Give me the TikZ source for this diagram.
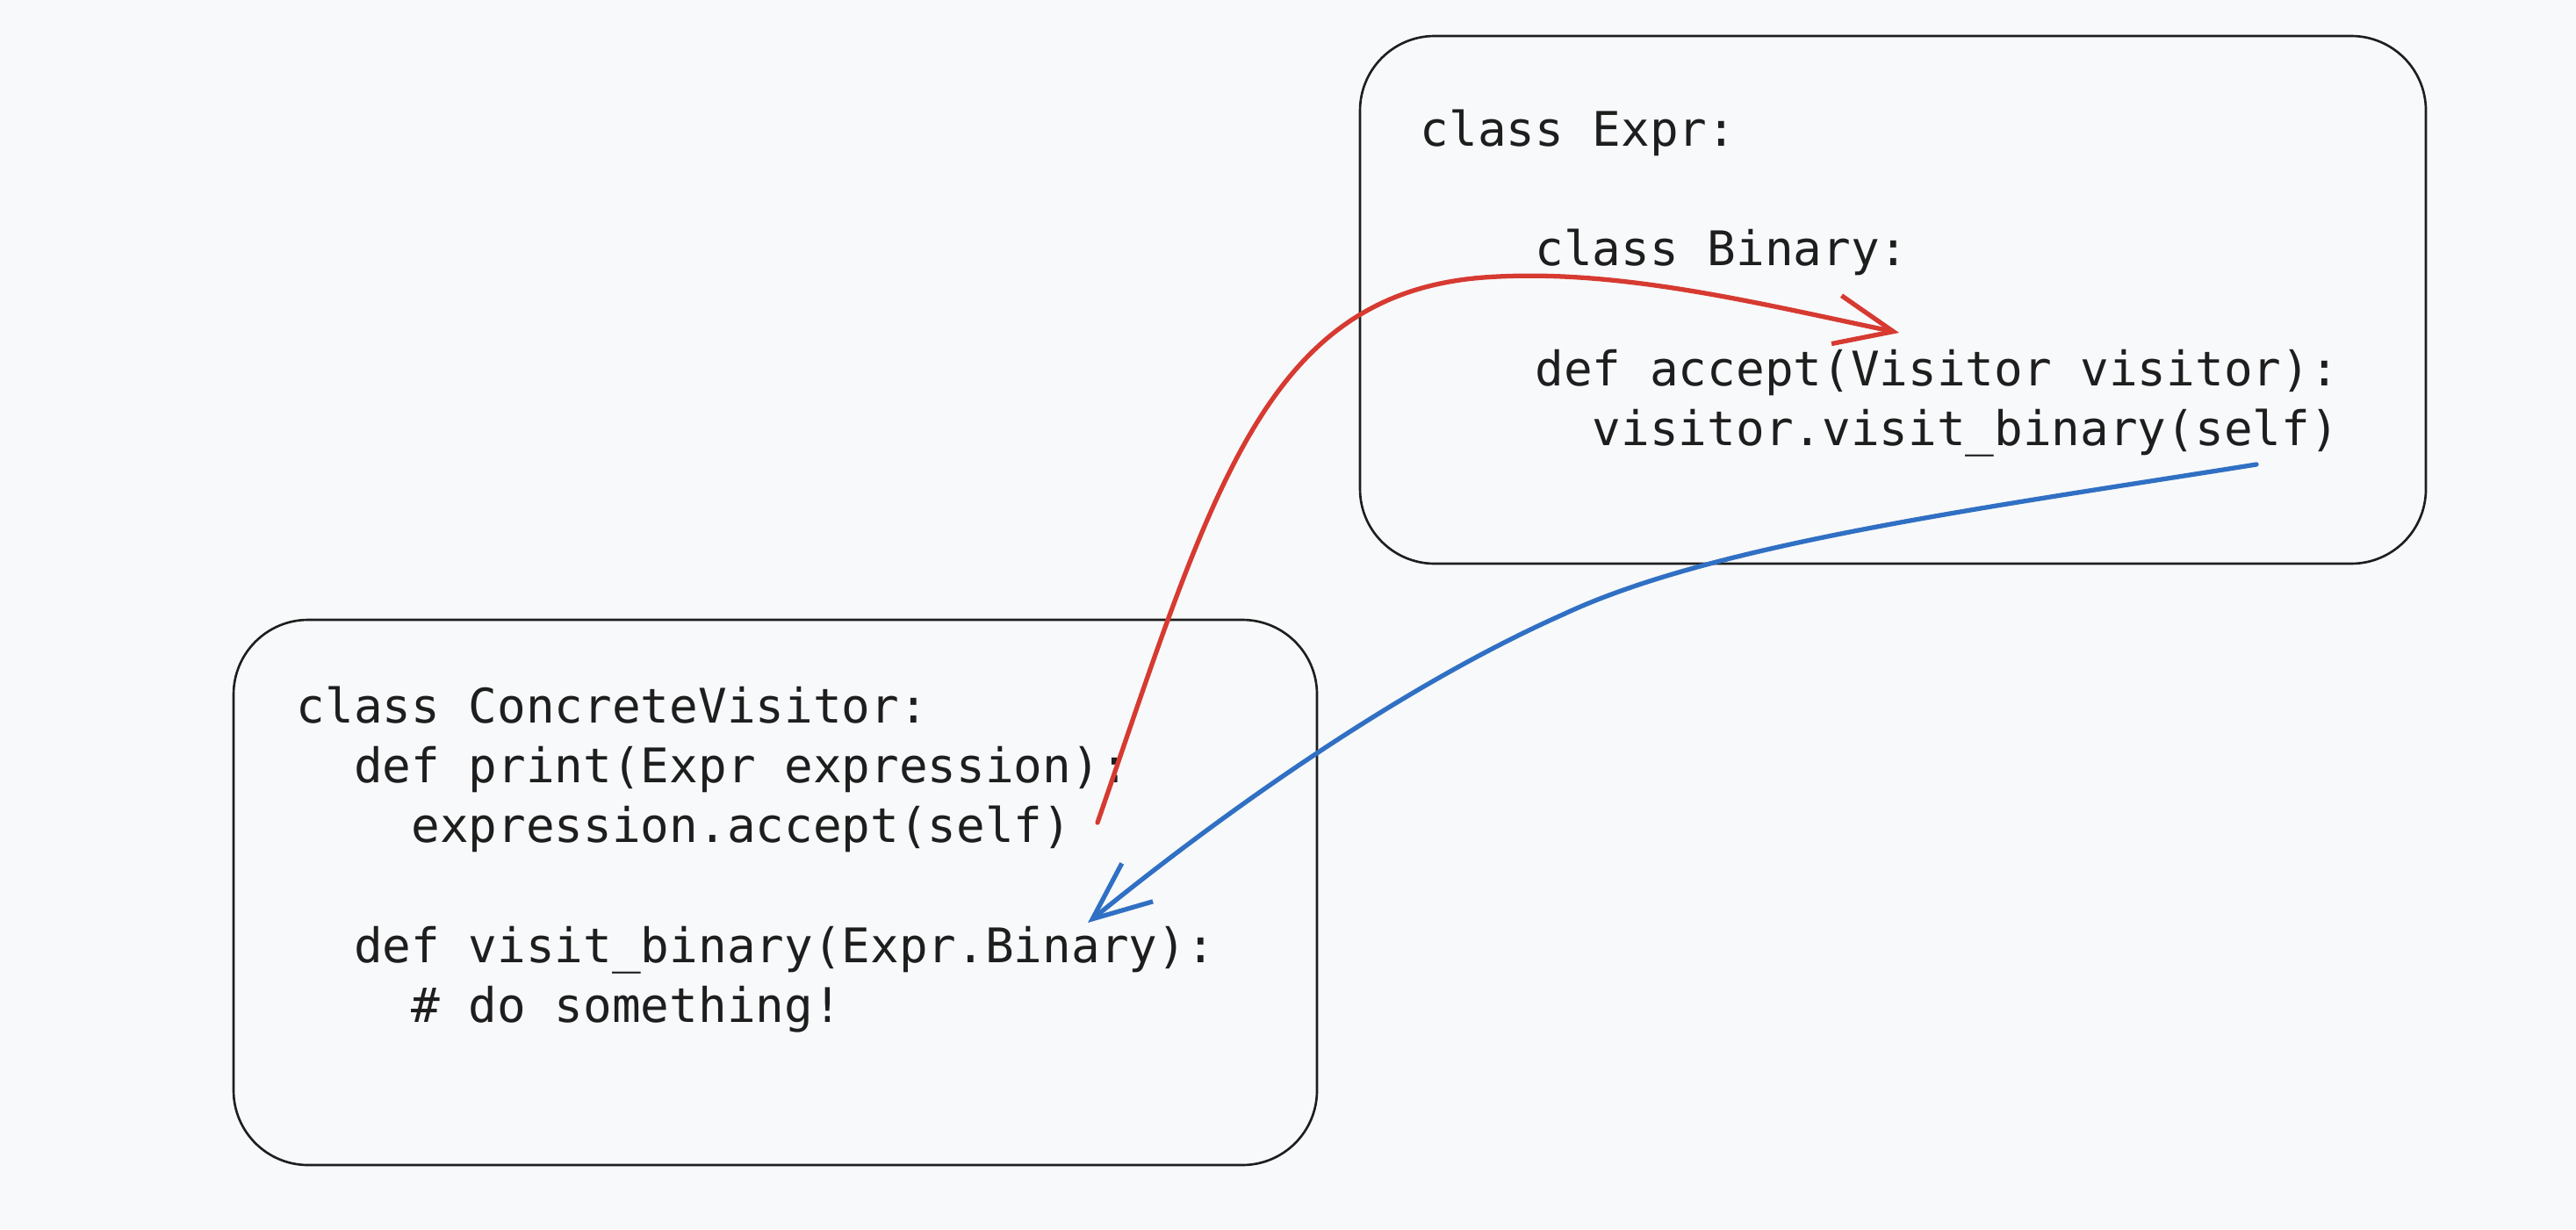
\documentclass[tikz,border=0pt]{standalone}
\usepackage{fontspec}
\usepackage{tikz}
\usetikzlibrary{calc, positioning, arrows.meta}

\newfontfamily\codefont{DejaVu Sans Mono}
\definecolor{canvas}{HTML}{F8F9FA}
\definecolor{inkline}{HTML}{1E1E1E}
\definecolor{callred}{HTML}{D63A31}
\definecolor{backblue}{HTML}{3070C4}

\begin{document}
\begin{tikzpicture}[
    >={Straight Barb[length=0.66cm, width=0.56cm]},
    line cap=round,
    font=\codefont\fontsize{15.45pt}{19.35pt}\selectfont
]

    % Styles for the two code boxes and the call arrows
    \tikzset{codebox/.style={
        draw=inkline,
        line width=0.75pt,
        rectangle,
        rounded corners=0.85cm
    }}
    % base west = baseline of the LAST line of the block
    \tikzset{codetext/.style={
        anchor=base west,
        align=left,
        inner sep=0pt,
        text=inkline
    }}
    \tikzset{callarrow/.style={->, line width=1.5pt}}

    % Canvas (keeps the page size of the original)
    \fill[canvas] (0, 0) rectangle (29.34, -14);
    \useasboundingbox (0, 0) rectangle (29.34, -14);

    % Expr box (top right)
    \node[codebox, minimum width=12.14cm, minimum height=6.01cm] (exprbox) at (21.56, -3.415) {};
    \node[codetext] (exprcode) at (16.17, -5.07) {%
        class Expr:\\
        \mbox{}\\
        \phantom{0000}class Binary:\\
        \mbox{}\\
        \phantom{0000}def accept(Visitor visitor):\\
        \phantom{000000}visitor.visit\_binary(self)};

    % ConcreteVisitor box (bottom left)
    \node[codebox, minimum width=12.34cm, minimum height=6.21cm] (visitorbox) at (8.83, -10.165) {};
    \node[codetext] (visitorcode) at (3.37, -11.64) {%
        class ConcreteVisitor:\\
        \phantom{00}def print(Expr expression):\\
        \phantom{0000}expression.accept(self)\\
        \mbox{}\\
        \phantom{00}def visit\_binary(Expr.Binary):\\
        \phantom{0000}\# do something!};

    % Arrow ends (free ends of the connectors)
    \coordinate (acceptcall) at (12.50, -9.37);  % after expression.accept(self)
    \coordinate (acceptdef) at (21.63, -3.79);   % above def accept
    \coordinate (visitcall) at (25.70, -5.29);   % under visitor.visit_binary(self)
    \coordinate (visitdef) at (12.39, -10.51);   % above def visit_binary

    % expression.accept(self) -> Expr.Binary.accept
    \draw[callarrow, callred] (acceptcall)
        .. controls (13.80, -5.60) and (14.40, -3.35) .. (16.90, -3.16)
        .. controls (18.40, -3.05) and (20.00, -3.45) .. (acceptdef);

    % visitor.visit_binary(self) -> ConcreteVisitor.visit_binary
    \draw[callarrow, backblue] (visitcall)
        .. controls (22.50, -5.80) and (19.50, -6.20) .. (17.80, -7.00)
        .. controls (16.00, -7.80) and (14.00, -9.20) .. (visitdef);

\end{tikzpicture}
\end{document}
